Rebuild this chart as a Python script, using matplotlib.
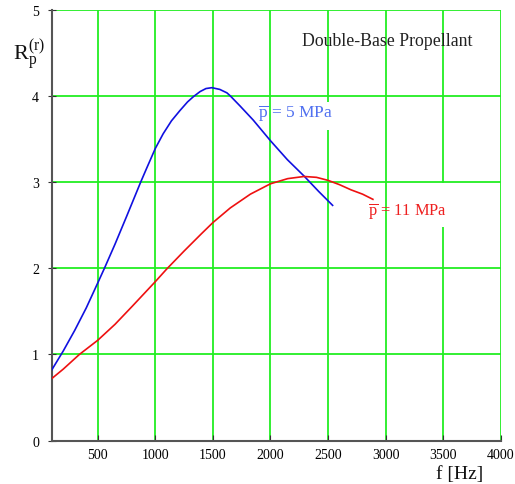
import matplotlib
matplotlib.use("Agg")
import matplotlib.pyplot as plt
from matplotlib.patches import Rectangle

# Data
f_5 = [100, 200, 300, 400, 500, 558, 650, 750, 873, 923, 1000, 1068, 1140, 1214, 1280, 1330, 1389, 1440, 1491,
       1560, 1622, 1651, 1738, 1850, 2000, 2147, 2292, 2420, 2540]
r_5 = [0.82, 1.04, 1.28, 1.54, 1.83, 2.00, 2.28, 2.60, 3.00, 3.155, 3.39, 3.56, 3.71, 3.83, 3.93, 3.99, 4.05, 4.085, 4.095,
       4.075, 4.035, 4.00, 3.88, 3.72, 3.48, 3.26, 3.07, 2.89, 2.73]
f_11 = [100, 200, 340, 500, 650, 800, 1000, 1098, 1250, 1400, 1500, 1651, 1826, 2000, 2150, 2292, 2400, 2500, 2600, 2700, 2800, 2890]
r_11 = [0.72, 0.83, 1.00, 1.165, 1.35, 1.56, 1.845, 1.99, 2.20, 2.40, 2.53, 2.70, 2.86, 2.98, 3.04, 3.065, 3.055, 3.02, 2.97, 2.91, 2.86, 2.80]

xticks = [500, 1000, 1500, 2000, 2500, 3000, 3500, 4000]
yticks = [0, 1, 2, 3, 4, 5]

plt.rcParams['mathtext.fontset'] = 'custom'
plt.rcParams['mathtext.rm'] = 'Liberation Serif'
plt.rcParams['mathtext.it'] = 'Liberation Serif:italic'
plt.rcParams['font.family'] = ['Liberation Serif', 'DejaVu Serif']

fig = plt.figure(figsize=(5.15, 4.85), dpi=100)
ax = fig.add_axes([0.1004, 0.0893, 0.8718, 0.8887])

ax.set_xlim(100, 4000)
ax.set_ylim(0, 5)
ax.set_xticks(xticks)
ax.set_yticks(yticks)
ax.grid(True, color='#22ee22', linewidth=1.3, zorder=0)
ax.set_axisbelow(True)
for s in ['top', 'right']:
    ax.spines[s].set_visible(False)
for s in ['left', 'bottom']:
    ax.spines[s].set_color('#555555')
    ax.spines[s].set_linewidth(1.5)
ax.tick_params(axis='x', direction='in', length=4, color='#333333', labelsize=10, pad=5)
ax.tick_params(axis='y', direction='inout', length=6, color='#333333', labelsize=10, pad=6)

# small white gaps in the grid behind the label ends (as in the reference)
ax.add_patch(Rectangle((2480, 3.60), 40, 0.33, facecolor='white', edgecolor='none', zorder=1))
ax.add_patch(Rectangle((3480, 2.48), 40, 0.515, facecolor='white', edgecolor='none', zorder=1))

ax.plot(f_5, r_5, color='#1010e0', linewidth=1.2, zorder=3, solid_joinstyle='round')
ax.plot(f_11, r_11, color='#ee1010', linewidth=1.2, zorder=3, solid_joinstyle='round')

ax.text(1896, 3.81, r'$\overline{\mathrm{p}}$ = 5 MPa', color='#5070f0', fontsize=12.5,
        va='center', ha='left', zorder=4)
ax.text(2851, 2.675, r'$\overline{\mathrm{p}}$ = 11 MPa', color='#ee2020', fontsize=11.8,
        va='center', ha='left', zorder=4)
ax.text(2270, 4.64, 'Double-Base Propellant', color='#222222', fontsize=12.8,
        va='center', ha='left', zorder=4)

fig.text(0.026, 0.888, r'$\mathrm{R}_{\mathrm{p}}^{(\mathrm{r})}$', fontsize=16, color='#111111',
         ha='left', va='center')
fig.text(0.938, 0.022, 'f [Hz]', fontsize=14, color='#111111', ha='right', va='center')

fig.savefig('out.png', dpi=100)
